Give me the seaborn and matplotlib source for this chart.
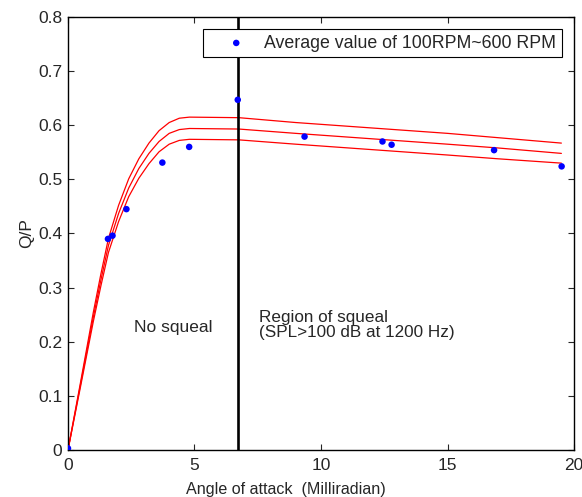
import numpy as np
import pandas as pd
import matplotlib
matplotlib.use('Agg')
import matplotlib.pyplot as plt
import seaborn as sns

# measured points (average of 100-600 RPM)
pt_x = [0.0, 1.58, 1.76, 2.31, 3.73, 4.79, 6.71, 9.35, 12.43, 12.79, 16.84, 19.51]
pt_y = [0.003, 0.390, 0.396, 0.445, 0.531, 0.560, 0.647, 0.579, 0.570, 0.564, 0.554, 0.524]

# fitted curve and its upper / lower band
curve_x = [0, 0.5, 1.0, 1.3, 1.6, 2.0, 2.4, 2.8, 3.2, 3.6, 4.0, 4.4, 4.8, 6.75, 9, 12, 15, 17, 19.5]
curve_mid = [0, 0.122, 0.245, 0.314, 0.378, 0.437, 0.484, 0.520, 0.548, 0.570, 0.585, 0.592, 0.594,
             0.593, 0.585, 0.575, 0.565, 0.558, 0.548]
curve_up = [0, 0.126, 0.254, 0.325, 0.391, 0.452, 0.501, 0.538, 0.567, 0.590, 0.605, 0.613, 0.615,
            0.614, 0.605, 0.595, 0.585, 0.577, 0.567]
curve_low = [0, 0.118, 0.237, 0.303, 0.365, 0.422, 0.468, 0.502, 0.529, 0.551, 0.565, 0.572, 0.574,
             0.573, 0.565, 0.555, 0.545, 0.538, 0.530]

squeal_x = 6.72
x_ticks = [0, 5, 10, 15, 20]
y_ticks = [0, 0.1, 0.2, 0.3, 0.4, 0.5, 0.6, 0.7, 0.8]
y_tick_labels = ['0', '0.1', '0.2', '0.3', '0.4', '0.5', '0.6', '0.7', '0.8']

sns.set_style('ticks')
plt.rcParams['font.family'] = ['Liberation Sans', 'DejaVu Sans']
plt.rcParams['font.size'] = 12.5
plt.rcParams['xtick.direction'] = 'in'
plt.rcParams['ytick.direction'] = 'in'

fig = plt.figure(figsize=(5.82, 4.97), dpi=100)
ax = fig.add_axes([0.1168, 0.0946, 0.8695, 0.8712])

for c in [curve_up, curve_mid, curve_low]:
    sns.lineplot(x=curve_x, y=c, color='red', lw=0.9, ax=ax, legend=False, zorder=2)

sns.scatterplot(x=pt_x, y=pt_y, color='blue', s=22, edgecolor='none',
                label='Average value of 100RPM~600 RPM', ax=ax, zorder=4)

ax.axvline(squeal_x, color='black', lw=1.9, zorder=3)

ax.text(2.6, 0.227, 'No squeal', fontsize=12.5, va='center', ha='left')
ax.text(7.55, 0.231, 'Region of squeal\n(SPL>100 dB at 1200 Hz)', fontsize=12.3,
        va='center', ha='left', linespacing=1.0)

ax.set_xlim(0, 20)
ax.set_ylim(0, 0.8)
ax.set_xticks(x_ticks)
ax.set_xticklabels([str(t) for t in x_ticks])
ax.set_yticks(y_ticks)
ax.set_yticklabels(y_tick_labels)
ax.tick_params(top=True, right=True, length=4, width=0.8, labelsize=12.5)
ax.tick_params(axis='x', pad=6)
ax.tick_params(axis='y', pad=4)
for s in ax.spines.values():
    s.set_linewidth(1.0)
    s.set_color('black')

ax.set_xlabel('Angle of attack  (Milliradian)', fontsize=11.6)
ax.xaxis.set_label_coords(0.43, -0.075)
ax.set_ylabel('Q/P', fontsize=12.5, labelpad=3)

leg = ax.legend(loc='upper right', fancybox=False, framealpha=1, edgecolor='black',
                fontsize=12.8, borderaxespad=0.67, handletextpad=0.05, borderpad=0.32,
                handlelength=3.07)
leg.get_frame().set_linewidth(0.8)
leg.set_zorder(5)

fig.savefig('out.png', dpi=100)
